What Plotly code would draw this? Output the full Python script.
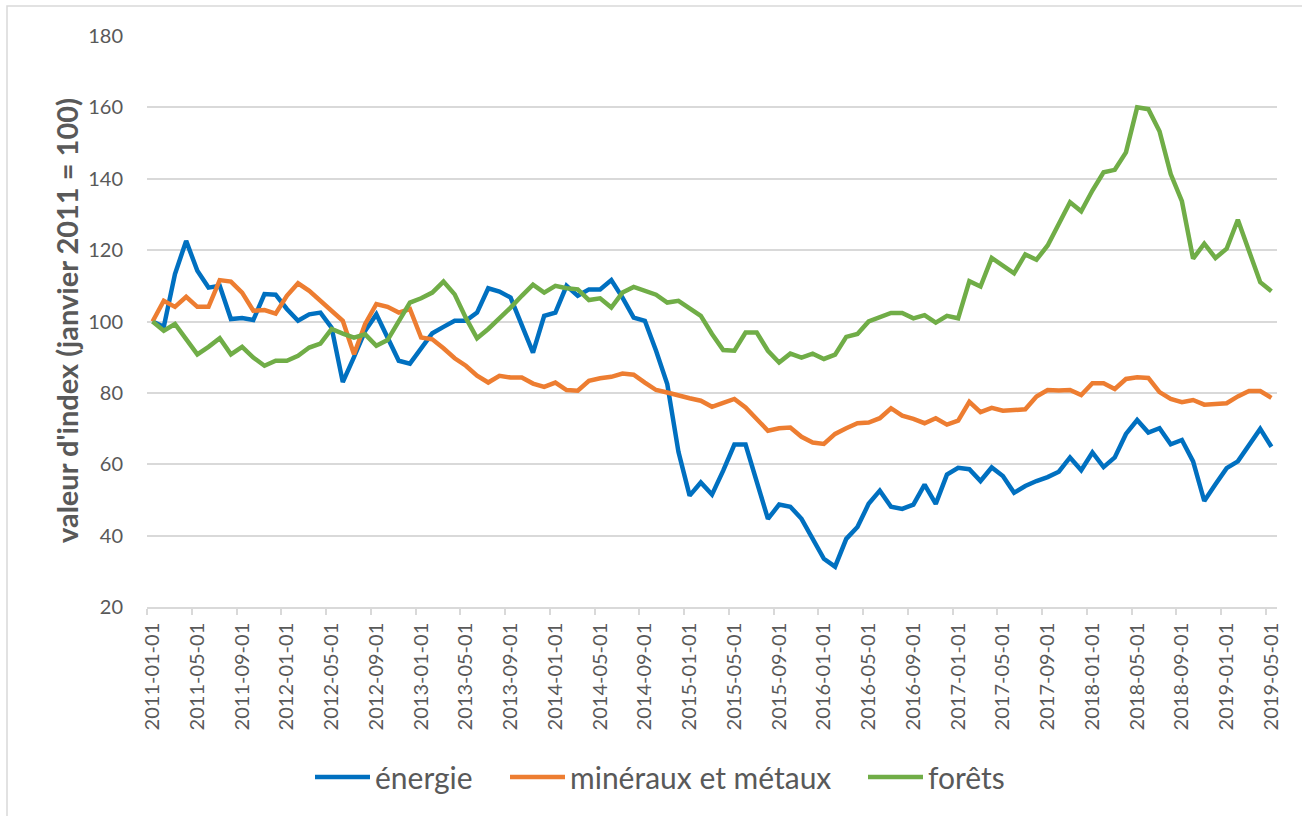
import pandas as pd
import plotly.graph_objects as go

months = [d.strftime("%Y-%m-%d") for d in pd.date_range("2011-01-01", "2019-05-01", freq="MS")]

energie = [100, 98.5, 113.3, 122.6, 114.2, 109.5, 110, 100.7, 101, 100.4,
           107.7, 107.5, 103.5, 100.2, 102, 102.5, 98.3, 83, 90, 97.4,
           102, 95.5, 89, 88.2, 92.2, 96.7, 98.5, 100.2, 100.2, 102.5,
           109.3, 108.4, 106.7, 98.8, 91.3, 101.6, 102.5, 110, 107.2, 109,
           109, 111.6, 106.7, 101.1, 100.2, 91.8, 82.5, 63.5, 51.2, 54.9,
           51.5, 58.2, 65.5, 65.5, 55.4, 44.7, 48.7, 48.1, 44.7, 39.1,
           33.5, 31.3, 39.1, 42.4, 48.9, 52.6, 48.1, 47.5, 48.7, 54.3,
           48.9, 57.1, 59, 58.6, 55.3, 59.1, 56.7, 52, 53.9, 55.3,
           56.4, 57.9, 61.9, 58.3, 63.3, 59.2, 61.9, 68.5, 72.4, 68.9,
           70.1, 65.6, 66.8, 60.8, 49.7, 54.4, 58.9, 60.8, 65.2, 69.9,
           64.9]

mineraux = [100, 105.8, 104.1, 106.9, 104.1, 104.1, 111.6, 111.2, 108.1, 103,
            103.2, 102.2, 107.2, 110.7, 108.6, 105.8, 103, 100.2, 90.8, 99.3,
            104.9, 104.1, 102.5, 103.5, 95.5, 95, 92.5, 89.7, 87.6, 84.8,
            82.9, 84.8, 84.3, 84.3, 82.6, 81.7, 82.9, 80.8, 80.6, 83.4,
            84.1, 84.5, 85.4, 85.1, 82.9, 80.8, 80.1, 79.2, 78.5, 77.8,
            76.1, 77.2, 78.3, 75.9, 72.7, 69.4, 70.1, 70.3, 67.7, 66.1,
            65.7, 68.5, 70.1, 71.5, 71.7, 72.9, 75.7, 73.6, 72.7, 71.5,
            72.9, 71.1, 72.2, 77.5, 74.6, 75.8, 75, 75.2, 75.4, 79,
            80.8, 80.7, 80.8, 79.4, 82.7, 82.7, 81.1, 83.9, 84.4, 84.2,
            80.2, 78.3, 77.4, 78, 76.7, 76.9, 77.1, 79, 80.5, 80.5,
            78.6]

forets = [100, 97.4, 99.3, 95, 90.8, 92.9, 95.3, 90.8, 92.9, 89.9,
          87.6, 89, 89, 90.4, 92.7, 93.8, 97.9, 96.6, 95.5, 96.4,
          93.2, 94.8, 100.2, 105.3, 106.5, 108.1, 111.2, 107.6, 101, 95.3,
          97.9, 100.7, 103.9, 107.2, 110.3, 108.1, 110, 109.3, 109, 106,
          106.5, 103.9, 108.1, 109.7, 108.6, 107.5, 105.3, 105.8, 103.7, 101.6,
          96.5, 92, 91.8, 96.9, 96.9, 91.8, 88.5, 91, 89.9, 91,
          89.5, 90.7, 95.7, 96.5, 100, 101.1, 102.4, 102.4, 100.9, 101.8,
          99.7, 101.6, 100.9, 111.3, 109.8, 117.8, 115.7, 113.5, 118.8, 117.3,
          121.3, 127.4, 133.4, 130.9, 136.7, 141.8, 142.5, 147.4, 160, 159.5,
          153.3, 141.3, 133.7, 117.6, 121.8, 117.8, 120.4, 128.5, 119.9, 111,
          108.5]

series = [
    ("énergie", energie, "#0070C0"),
    ("minéraux et métaux", mineraux, "#ED7D31"),
    ("forêts", forets, "#70AD47"),
]

y_title = "valeur d'index (janvier 2011 = 100)"
FONT = "Lato, 'Open Sans', sans-serif"
GREY = "#595959"

W, H = 1302, 816
L, R, T, B = 147, 25, 36, 209
pw, ph = W - L - R, H - T - B

def px_x(p):
    return (p - L) / pw

def px_y(p):
    return (H - B - p) / ph

legend_ids = ["legend", "legend2", "legend3"]
legend_left = [317, 512, 870]   # pixel x where each legend line starts

fig = go.Figure()
for (name, vals, color), lid in zip(series, legend_ids):
    fig.add_trace(go.Scatter(x=months, y=vals, mode="lines", name=name,
                             legend=lid, line=dict(color=color, width=4.5)))

legend_layouts = {}
for lid, lx in zip(legend_ids, legend_left):
    legend_layouts[lid] = dict(orientation="h", x=px_x(lx - 7), y=px_y(777),
                               xanchor="left", yanchor="middle",
                               font=dict(size=30, color=GREY, family=FONT),
                               itemwidth=55, bgcolor="rgba(0,0,0,0)")

fig.update_layout(
    width=W, height=H,
    margin=dict(l=L, r=R, t=T, b=B),
    paper_bgcolor="white", plot_bgcolor="white",
    font=dict(family=FONT, color=GREY),
    showlegend=True,
    xaxis=dict(type="category", range=[-0.5, len(months) - 0.5],
               tickmode="linear", tick0=0, dtick=4, tickson="boundaries",
               ticks="outside", ticklen=6, tickcolor="#d9d9d9", tickwidth=1.5,
               showgrid=False, showline=True, linecolor="#d9d9d9", linewidth=1.5,
               tickangle=-90, tickfont=dict(size=20, color=GREY, family=FONT),
               ticklabelstandoff=6),
    yaxis=dict(range=[20, 180], tickmode="linear", tick0=20, dtick=20,
               showgrid=True, gridcolor="#d9d9d9", gridwidth=1.5,
               zeroline=False, showline=False,
               tickfont=dict(size=20, color=GREY, family=FONT),
               ticklabelstandoff=23),
    annotations=[dict(text="<b>" + y_title + "</b>", textangle=-90,
                      xref="paper", yref="paper", x=px_x(66), y=px_y(321),
                      xanchor="center", yanchor="middle", showarrow=False,
                      font=dict(size=29, color=GREY, family=FONT))],
    shapes=[dict(type="rect", xref="paper", yref="paper",
                 x0=px_x(7), x1=px_x(1320), y0=px_y(830), y1=px_y(6),
                 line=dict(color="#d9d9d9", width=1.5), layer="below")],
    **legend_layouts,
)

fig.write_html("out.html", config={"displayModeBar": False},
               post_script="document.body.style.margin='0';document.body.style.overflow='hidden';")
